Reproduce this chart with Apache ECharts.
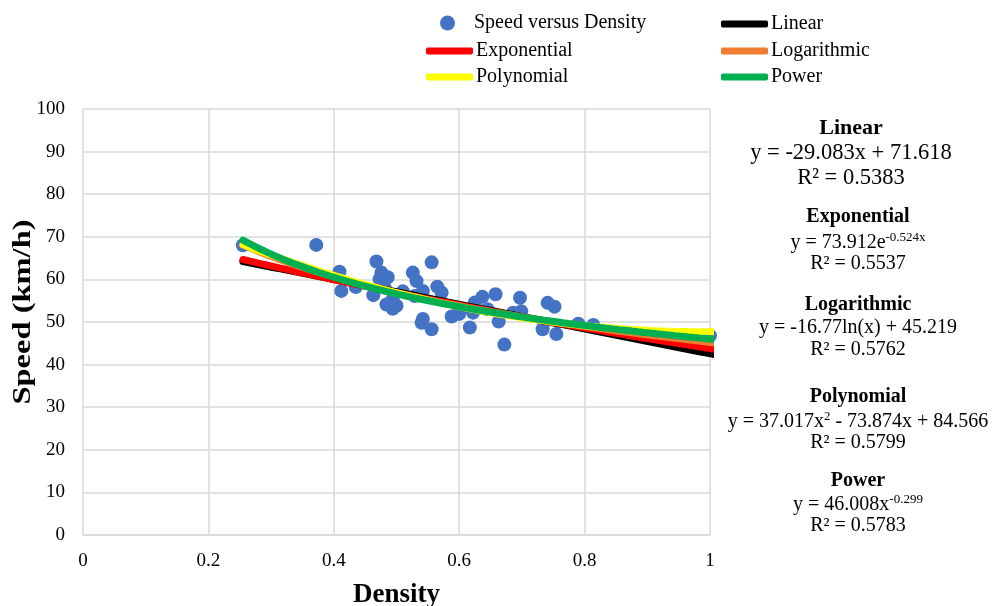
<!DOCTYPE html>
<html><head><meta charset="utf-8">
<script src="https://cdn.jsdelivr.net/npm/echarts@6/dist/echarts.min.js"></script>
<style>html,body{margin:0;padding:0;background:#fff}#c{width:994px;height:606px}</style>
</head><body><div id="c"></div>
<script>
const density = [0.255,0.372,0.409,0.412,0.435,0.468,0.476,0.473,0.486,0.463,0.481,0.484,0.494,0.5,0.494,0.51,0.526,0.532,0.529,0.542,0.556,0.542,0.54,0.556,0.565,0.572,0.588,0.6,0.6,0.617,0.625,0.622,0.637,0.645,0.658,0.663,0.672,0.686,0.697,0.699,0.733,0.741,0.752,0.755,0.79,0.814,1.0];
const speed   = [68,68.1,61.8,57.3,58.2,64.2,61.6,60.1,60.5,56.3,58.1,54.1,53.1,53.8,55.4,57.2,61.6,59.6,56.1,57.3,64.0,50.7,49.8,48.3,58.3,56.9,51.3,52.6,51.9,48.7,54.6,52.2,55.9,53.0,56.5,50.1,44.7,52.2,55.7,52.5,48.3,54.5,53.6,47.2,49.6,49.3,46.8];
const xTicks = [0,0.2,0.4,0.6,0.8,1];
const linearCoef = [-29.083, 71.618];
const expCoef = [73.912, -0.524];
const logCoef = [-16.77, 45.219];
const polyCoef = [37.017, -73.874, 84.566];
const powCoef = [46.008, -0.299];
const fitX = [];
for (let i = 0; i <= 75; i++) fitX.push(+(0.255 + i * 0.01).toFixed(3));
if (fitX[fitX.length-1] < 1) fitX.push(1);
const fits = {
  Linear: x => linearCoef[0]*x + linearCoef[1],
  Exponential: x => expCoef[0]*Math.exp(expCoef[1]*x),
  Logarithmic: x => logCoef[0]*Math.log(x) + logCoef[1],
  Polynomial: x => polyCoef[0]*x*x + polyCoef[1]*x + polyCoef[2],
  Power: x => powCoef[0]*Math.pow(x, powCoef[1])
};
const colors = {Linear:'#000000', Exponential:'#FF0000', Logarithmic:'#ED7D31', Polynomial:'#FFFF00', Power:'#00B050'};
const FONT = '"Liberation Serif","Times New Roman",serif';

const chart = echarts.init(document.getElementById('c'), null, {renderer:'canvas'});
const lineSeries = Object.keys(fits).map(name => ({
  name, type:'line', showSymbol:false, symbol:'none', smooth:false,
  lineStyle:{color:colors[name], width:7, cap:'round'}, itemStyle:{color:colors[name]},
  data: fitX.map(x => [x, fits[name](x)]), animation:false, silent:true
}));

function leg(name, left, top, isScatter){
  return {data:[{name, icon: isScatter ? 'circle' : 'roundRect'}], left, top, itemWidth:47, itemHeight: isScatter?15:7, itemGap:0,
    textStyle:{fontFamily:FONT, fontSize:20, color:'#000', padding:[0,0,0,-2]}, selectedMode:false};
}
const mk = (x,y,t,size,bold) => ({type:'text', x, y, style:{text:t, font:(bold?'bold ':'')+size+'px '+FONT, fill:'#000', textAlign:'center', textVerticalAlign:'middle'}});
const rt = (x,y,parts,size) => ({type:'text', x, y, style:{text:parts, textAlign:'center', textVerticalAlign:'middle',
  rich:{n:{fontFamily:FONT, fontSize:size, color:'#000', lineHeight:22, verticalAlign:'bottom'}, s:{fontFamily:FONT, fontSize:13, color:'#000', lineHeight:22, verticalAlign:'top', padding:[0,0,8,0]}}}});
const cx = 858, lx = 851;
chart.setOption({
  animation:false,
  grid:{left:83, right:284, top:109, bottom:71, containLabel:false, outerBoundsMode:'none'},
  legend:[leg('Speed versus Density',435,8,true), leg('Linear',716,9,false), leg('Exponential',421,36,false), leg('Logarithmic',716,36,false), leg('Polynomial',421,62,false), leg('Power',716,62,false)],
  xAxis:{type:'value', min:0, max:1, interval:0.2, name:'Density', nameLocation:'middle', nameGap:47,
    nameTextStyle:{fontFamily:FONT, fontSize:27, fontWeight:'bold', color:'#000'},
    axisLine:{show:true, lineStyle:{color:'#d9d9d9', width:1.5}}, axisTick:{show:false},
    axisLabel:{fontFamily:FONT, fontSize:19, color:'#000', margin:17, formatter: v => String(+v.toFixed(1))},
    splitLine:{show:true, lineStyle:{color:'#d9d9d9', width:1.5}}},
  yAxis:{type:'value', min:0, max:100, interval:10,
    axisLine:{show:false}, axisTick:{show:false},
    axisLabel:{fontFamily:FONT, fontSize:19, color:'#000', margin:18},
    splitLine:{show:true, lineStyle:{color:'#d9d9d9', width:1.5}}},
  series:[{name:'Speed versus Density', type:'scatter', symbolSize:14, itemStyle:{color:'#4472C4', opacity:1},
    data: density.map((d,i)=>[d, speed[i]]), z:1}].concat(lineSeries.map((s,i)=>Object.assign(s,{z:2+i}))),
  graphic:[
    {type:'text', x:24, y:312, rotation:Math.PI/2, scaleX:1.3, style:{text:'Speed (km/h)', font:'bold 25px '+FONT, fill:'#000', textAlign:'center', textVerticalAlign:'middle'}},
    mk(lx,128,'Linear',22,true), mk(lx,153,'y = -29.083x + 71.618',22.5,false), mk(lx,178,'R² = 0.5383',22.5,false),
    mk(cx,217,'Exponential',20,true), rt(cx,242,'{n|y = 73.912e}{s|-0.524x}',20), mk(cx,264,'R² = 0.5537',20,false),
    mk(cx,305,'Logarithmic',20,true), mk(cx,328,'y = -16.77ln(x) + 45.219',20,false), mk(cx,350,'R² = 0.5762',20,false),
    mk(cx,397,'Polynomial',20,true), rt(cx,421,'{n|y = 37.017x}{s|2}{n| - 73.874x + 84.566}',20), mk(cx,443,'R² = 0.5799',20,false),
    mk(cx,481,'Power',20,true), rt(cx,504,'{n|y = 46.008x}{s|-0.299}',20), mk(cx,526,'R² = 0.5783',20,false)
  ]
});
</script></body></html>
